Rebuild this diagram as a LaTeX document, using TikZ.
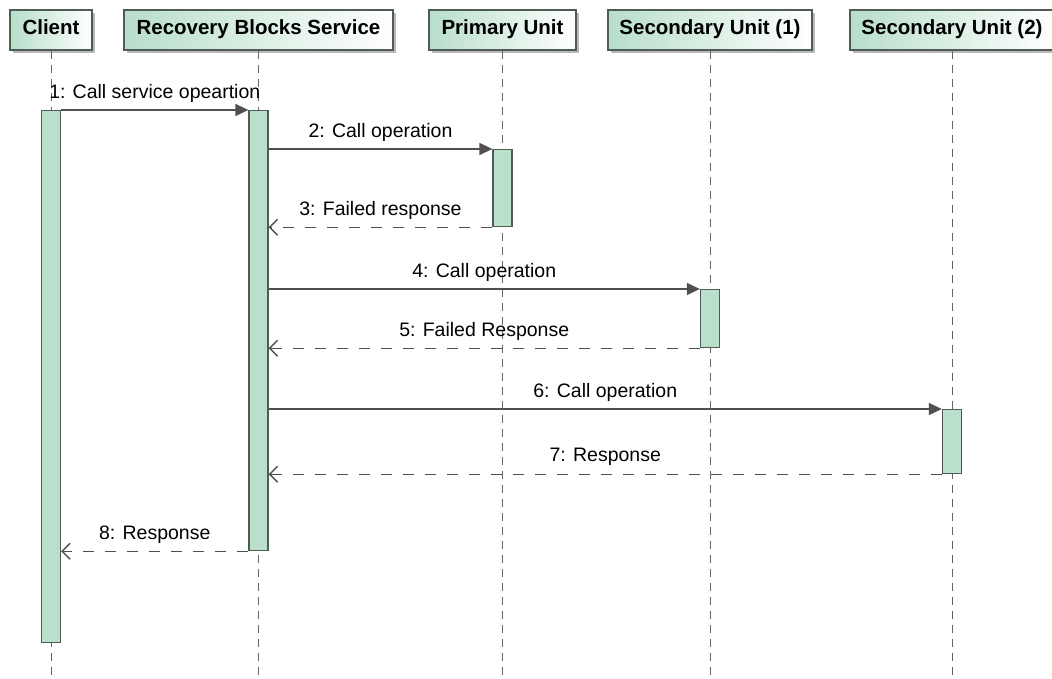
\documentclass[tikz,border=0pt]{standalone}
\usepackage{fontspec}
\setmainfont{Liberation Sans}
\usetikzlibrary{arrows.meta,shadows}
\definecolor{barfill}{RGB}{186,224,204}
\definecolor{edge}{RGB}{78,92,84}
\definecolor{hdrgreen}{RGB}{184,222,202}
\definecolor{msg}{RGB}{80,80,80}
\definecolor{life}{RGB}{100,100,100}
\begin{document}
\begin{tikzpicture}[x=1pt,y=-1pt,
  header/.style={draw=edge, line width=1.3pt, left color=hdrgreen, right color=white,
    minimum height=40pt, inner sep=0pt, text height=14pt, text depth=4pt,
    font=\fontsize{20.5}{24}\selectfont\bfseries,
    drop shadow={shadow xshift=3pt,shadow yshift=-3pt,fill=gray!55,opacity=1}},
  lifeline/.style={draw=life, line width=1pt, dash pattern=on 8pt off 6pt},
  actbar/.style={draw=edge, fill=barfill, line width=1.3pt, minimum width=19pt,
    inner sep=0pt, anchor=north},
  call/.style={draw=msg, line width=1.4pt, -{Triangle[length=13pt,width=12pt]}},
  reply/.style={draw=msg, line width=1.4pt, dash pattern=on 11pt off 11pt,
    -{Straight Barb[length=8pt,width=16pt]}},
  lbl/.style={font=\fontsize{19.5}{22}\selectfont, inner sep=0pt, midway, yshift=17pt}]
\useasboundingbox (0,0) rectangle (1052,679);
\fill[white] (0,0) rectangle (1052,679);

% participants
\node[header, minimum width=82pt]  (client) at (51,30)    {Client};
\node[header, minimum width=269pt] (rbs)    at (258.5,30) {Recovery Blocks Service};
\node[header, minimum width=147pt] (pri)    at (502.5,30) {Primary Unit};
\node[header, minimum width=204pt] (secA)   at (710,30)   {Secondary Unit (1)};
\node[header, minimum width=204pt] (secB)   at (952,30)   {Secondary Unit (2)};

% lifelines
\foreach \p in {client,rbs,pri,secA,secB} {
  \coordinate (\p-end) at (\p.south |- 0,679);
  \draw[lifeline] (\p.south) -- (\p-end);
}

% activation bars
\node[actbar, minimum height=532pt] (cbar)  at (client.south |- 0,110) {};
\node[actbar, minimum height=440pt] (rbar)  at (rbs.south |- 0,110)    {};
\node[actbar, minimum height=77pt]  (pbar)  at (pri.south |- 0,149)    {};
\node[actbar, minimum height=58pt]  (s1bar) at (secA.south |- 0,289)   {};
\node[actbar, minimum height=64pt]  (s2bar) at (secB.south |- 0,409)   {};

% messages
\draw[call]  (cbar.north east) -- (rbar.north west)
  node[lbl] {1: Call service opeartion};
\draw[call]  (rbar.east |- pbar.north) -- (pbar.north west)
  node[lbl] {2: Call operation};
\draw[reply] (pbar.south west) -- (rbar.east |- pbar.south)
  node[lbl] {3: Failed response};
\draw[call]  (rbar.east |- s1bar.north) -- (s1bar.north west)
  node[lbl] {4: Call operation};
\draw[reply] (s1bar.south west) -- (rbar.east |- s1bar.south)
  node[lbl] {5: Failed Response};
\draw[call]  (rbar.east |- s2bar.north) -- (s2bar.north west)
  node[lbl] {6: Call operation};
\draw[reply] (s2bar.south west) -- (rbar.east |- s2bar.south)
  node[lbl] {7: Response};
\draw[reply] (rbar.south west) -- (cbar.east |- rbar.south)
  node[lbl] {8: Response};
\end{tikzpicture}
\end{document}
